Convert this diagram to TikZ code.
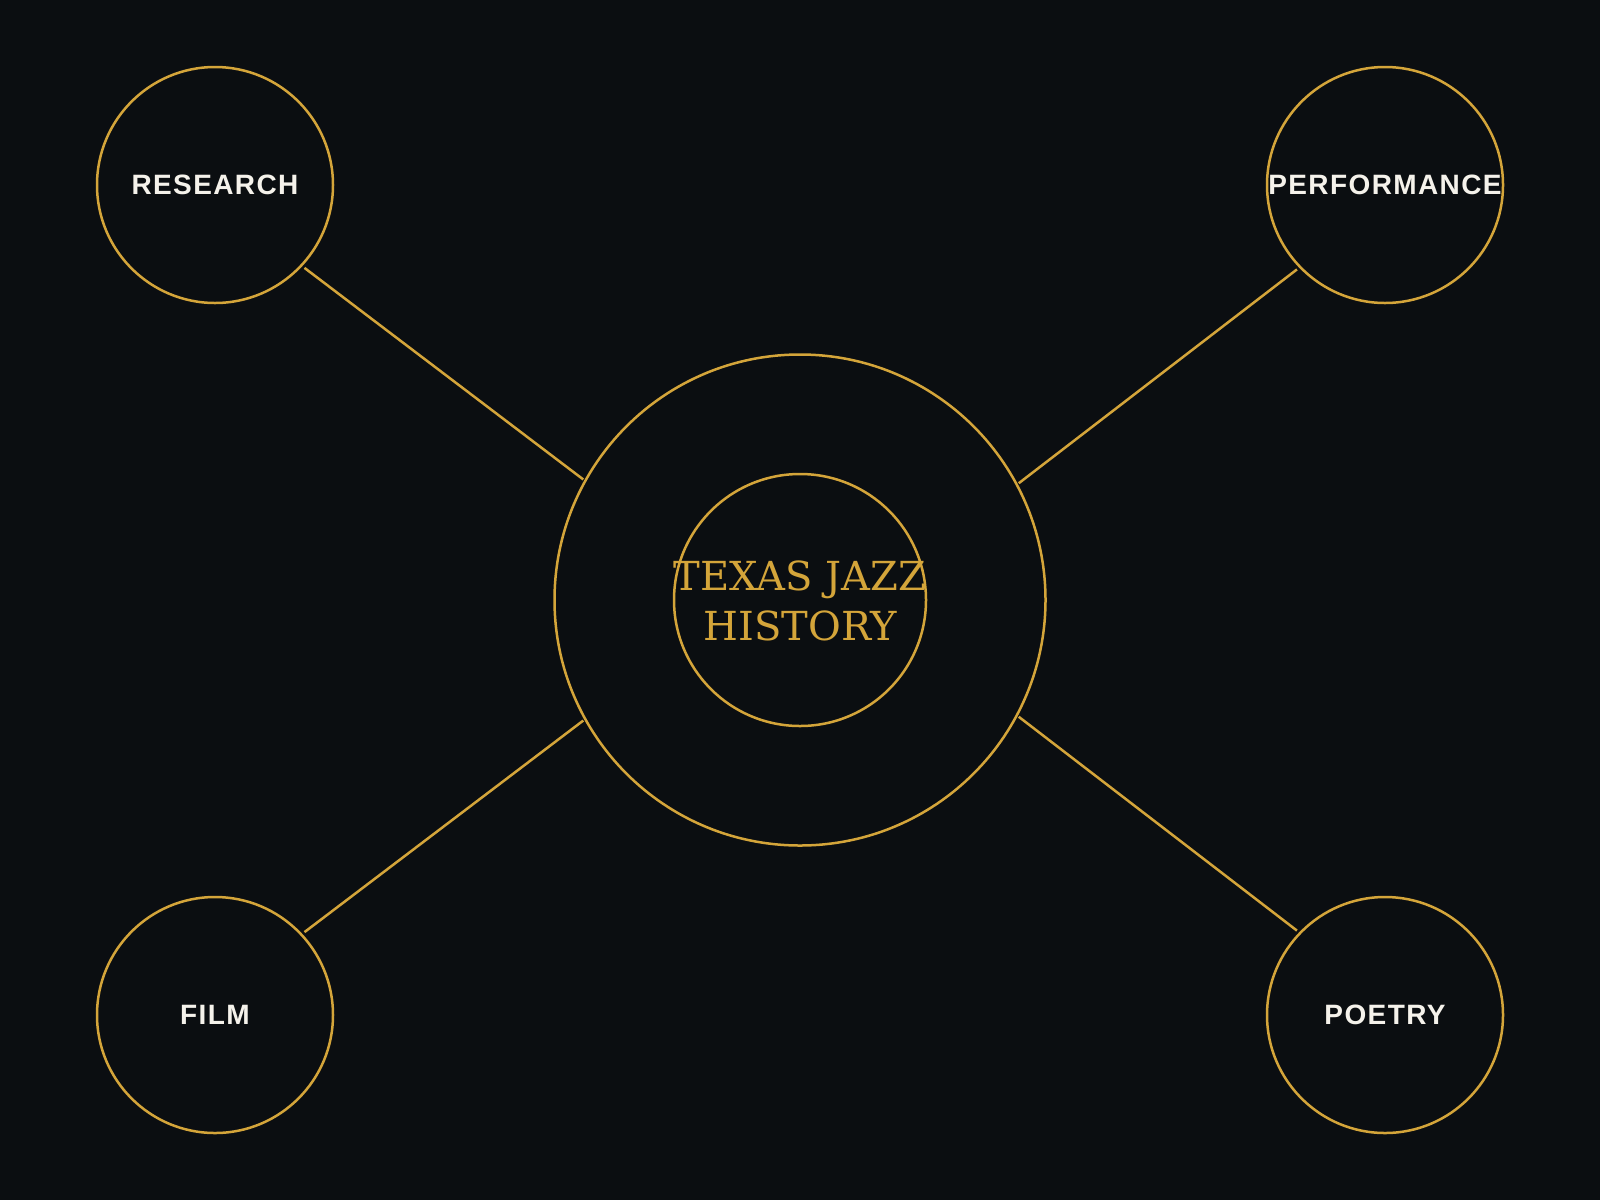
\documentclass[tikz,border=0pt]{standalone}
\usepackage{fontspec}
\setmainfont{DejaVu Serif}
\newfontfamily\labfont[LetterSpace=5]{Liberation Sans}
\definecolor{bgc}{RGB}{11,14,17}
\definecolor{gold}{RGB}{212,165,58}
\definecolor{labc}{RGB}{245,242,235}
\tikzset{
  ring/.style={draw=gold, line width=2.5pt, circle, inner sep=0pt, outer sep=0pt, minimum size=#1},
  lab/.style={text=labc, font=\labfont\bfseries\fontsize{28}{34}\selectfont, inner sep=0pt},
  link/.style={draw=gold, line width=2.5pt}
}
\begin{document}
\begin{tikzpicture}[x=1pt,y=-1pt]
\fill[bgc] (0,0) rectangle (1600,1200);
\useasboundingbox (0,0) rectangle (1600,1200);
% centre
\node[ring=491pt] (outer) at (800,600) {};
\node[ring=252pt] (inner) at (800,600) {};
\node[text=gold, align=center, inner sep=0pt, font=\fontsize{40}{49.5}\selectfont] (title) at (800,601) {TEXAS JAZZ\\HISTORY};
% satellites
\node[ring=236pt] (res) at (215,185) {};
\node[lab] (resT) at (215,185) {RESEARCH};
\node[ring=236pt] (perf) at (1385,185) {};
\node[lab] (perfT) at (1385,185) {PERFORMANCE};
\node[ring=236pt] (film) at (215,1015) {};
\node[lab] (filmT) at (215,1015) {FILM};
\node[ring=236pt] (poe) at (1385,1015) {};
\node[lab] (poeT) at (1385,1015) {POETRY};
% connectors
\draw[link, shorten <=4pt, shorten >=2.5pt] (res.-43.7) -- (outer.151.05);
\draw[link, shorten <=4pt, shorten >=2.5pt] (perf.-136.3) -- (outer.28.95);
\draw[link, shorten <=4pt, shorten >=2.5pt] (film.43.7) -- (outer.-151.05);
\draw[link, shorten <=4pt, shorten >=2.5pt] (poe.136.3) -- (outer.-28.95);
\end{tikzpicture}
\end{document}
